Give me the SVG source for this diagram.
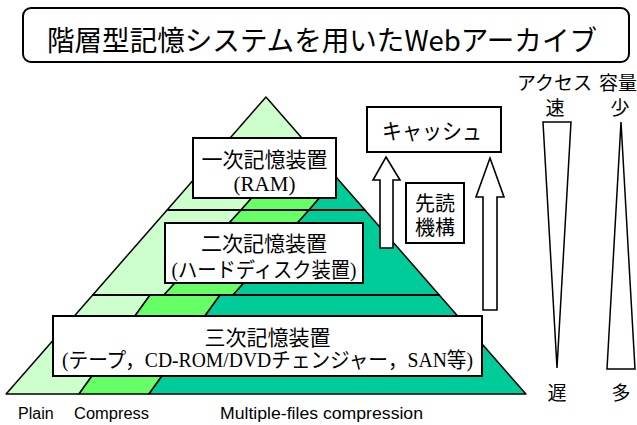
<svg xmlns="http://www.w3.org/2000/svg" width="637" height="425" viewBox="0 0 637 425">
<style>
.lt{fill:#ccffcc;stroke:#000;stroke-width:1.5;stroke-linejoin:round}
.br{fill:#66ff66;stroke:#000;stroke-width:1.5;stroke-linejoin:round}
.tl{fill:#00cc99;stroke:#000;stroke-width:1.5;stroke-linejoin:round}
.hl{stroke:#000;stroke-width:2;fill:none}
.box{fill:#fff;stroke:#000;stroke-width:2}
.arr{fill:#fff;stroke:#000;stroke-width:1.6;stroke-linejoin:miter}
.wedge{fill:#fff;stroke:#000;stroke-width:1.5}
.bt{font-family:"Liberation Serif","Noto Sans CJK JP",serif;font-size:21px;fill:#000;text-anchor:middle}
.jp{font-family:"Noto Sans CJK JP",sans-serif;fill:#000}
.lb{font-family:"Liberation Sans","DejaVu Sans",sans-serif;font-size:16px;fill:#000}
</style>
<g id="pyramid">
<polygon class="lt" points="266,97 303.6,140 241,210 167.1,210"/>
<polygon class="br" points="303.6,140 336.9,178 309,210 241,210"/>
<polygon class="tl" points="336.9,178 364.9,210 309,210"/>
<polygon class="lt" points="167.1,210 241,210 164,295 92.75,295"/>
<polygon class="br" points="241,210 309,210 233,295 164,295"/>
<polygon class="tl" points="309,210 364.9,210 439.25,295 233,295"/>
<polygon class="lt" points="92.75,295 150,295 79,394 6.1,394"/>
<polygon class="br" points="150,295 220,295 149,394 79,394"/>
<polygon class="tl" points="220,295 439.25,295 525.9,394 149,394"/>
<line class="hl" x1="167.1" y1="210" x2="364.9" y2="210"/>
<line class="hl" x1="92.75" y1="295" x2="439.25" y2="295"/>
</g>
<g id="connectors">
<polygon class="arr" points="386,157 400,180 393,180 393,248 380,248 380,180 373,180"/>
<polygon class="arr" points="490,158 504,197 497,197 497,310 483,310 483,197 476,197"/>
</g>
<g id="title">
<rect x="23" y="8" width="606" height="54" rx="8" ry="8" class="box"/>
<text class="jp" x="322" y="51" font-size="28" text-anchor="middle" textLength="550" lengthAdjust="spacingAndGlyphs">階層型記憶システムを用いたWebアーカイブ</text>
</g>
<g id="primary">
<rect x="193" y="138" width="143" height="60" class="box"/>
<text class="bt" x="264.5" y="167">一次記憶装置</text>
<text class="bt" x="264.5" y="191">(RAM)</text>
</g>
<g id="secondary">
<rect x="165" y="223" width="198" height="60" class="box"/>
<text class="bt" x="264" y="251">二次記憶装置</text>
<text class="bt" x="264" y="277" textLength="185" lengthAdjust="spacingAndGlyphs">(ハードディスク装置)</text>
</g>
<g id="tertiary">
<rect x="53" y="316" width="429" height="60" class="box"/>
<text class="bt" x="267.5" y="345">三次記憶装置</text>
<text class="bt" x="267.5" y="367" textLength="411" lengthAdjust="spacingAndGlyphs">(テープ，CD-ROM/DVDチェンジャー，SAN等)</text>
</g>
<g id="cache">
<rect x="367" y="107" width="134" height="45" class="box"/>
<text class="jp" x="432" y="139" font-size="22" text-anchor="middle" textLength="100" lengthAdjust="spacingAndGlyphs">キャッシュ</text>
</g>
<g id="prefetch">
<rect x="406" y="183" width="58" height="60" class="box"/>
<text class="bt" x="435" y="211" font-size="20" style="font-size:20px">先読</text>
<text class="bt" x="435" y="235" font-size="20" style="font-size:20px">機構</text>
</g>
<g id="access">
<text class="jp" x="517" y="90" font-size="19">アクセス</text>
<text class="jp" x="555" y="115" font-size="19" text-anchor="middle">速</text>
<polygon class="wedge" points="543,122 571,122 557,368"/>
<text class="jp" x="557" y="400" font-size="19" text-anchor="middle">遅</text>
</g>
<g id="capacity">
<text class="jp" x="599" y="90" font-size="19">容量</text>
<text class="jp" x="620" y="115" font-size="19" text-anchor="middle">少</text>
<polygon class="wedge" points="621,122 635,369 607,369"/>
<text class="jp" x="621" y="400" font-size="19" text-anchor="middle">多</text>
</g>
<g id="labels">
<text class="lb" x="18" y="419">Plain</text>
<text class="lb" x="74" y="419" textLength="75" lengthAdjust="spacingAndGlyphs">Compress</text>
<text class="lb" x="220" y="419" textLength="203" lengthAdjust="spacingAndGlyphs">Multiple-files compression</text>
</g>
</svg>
